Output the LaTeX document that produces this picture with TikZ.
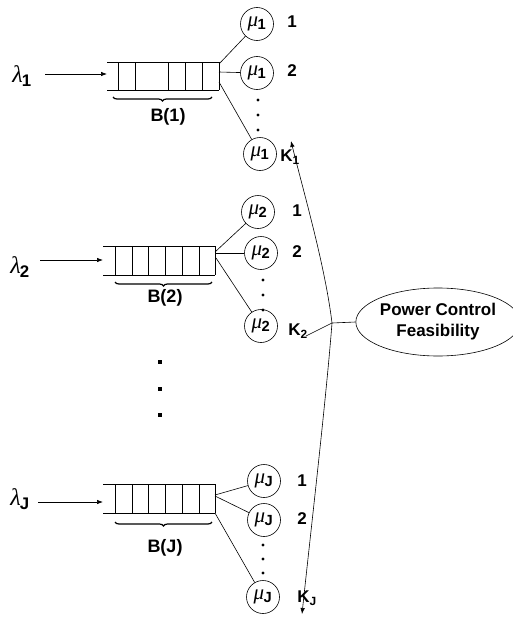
\documentclass[tikz,border=0pt]{standalone}
\usepackage{fontspec}
\setmainfont{Liberation Sans}
\newfontfamily\grk{Liberation Serif}
\usetikzlibrary{arrows.meta,decorations.pathreplacing,shapes.geometric}
\newcommand{\lamb}[1]{{\grk\itshape λ}\kern-1pt\textsubscript{\bfseries #1}}
\newcommand{\muu}[1]{{\grk\itshape μ}\kern-0.5pt\textsubscript{\bfseries #1}}
\begin{document}
\begin{tikzpicture}[x=1pt,y=-1pt,
  line width=0.6pt,
  srv/.style={draw, circle, minimum size=33pt, inner sep=0pt, line width=0.6pt, font=\fontsize{21}{21}\selectfont},
  num/.style={font=\bfseries\fontsize{17}{17}\selectfont},
  lamlab/.style={font=\fontsize{24}{24}\selectfont},
  blab/.style={font=\bfseries\fontsize{18}{18}\selectfont},
  dotm/.style={fill, circle, minimum size=3.2pt, inner sep=0pt, outer sep=0pt},
  qline/.style={line width=0.9pt},
  conn/.style={line width=0.6pt},
  arr/.style={-{Latex[length=6pt,width=4.5pt]}, line width=0.7pt},
  brc/.style={decorate, decoration={brace, mirror, amplitude=4pt}, line width=1.2pt},
  pwbox/.style={draw, ellipse, minimum width=151pt, minimum height=68pt, inner sep=0pt, align=center, font=\bfseries\fontsize{17}{21}\selectfont}
]
\useasboundingbox (0,0) rectangle (513,621);

% ---------- Block 1 ----------
\draw[qline] (107,62) -- (219,62) (107,90) -- (219,90) (219,62) -- (219,90);
\foreach \x in {118,135,168,185,202} \draw[qline] (\x,62) -- (\x,90);
\coordinate (q1a) at (219,64);
\coordinate (q1b) at (219,72);
\coordinate (q1c) at (219,82);
\coordinate (q1in) at (107,74);
\coordinate (a1) at (45,74);
\node[lamlab] (l1) at (22,76) {\lamb{1}};
\draw[arr] (a1) -- (q1in);
\draw[brc] (113,97) -- (212,97);
\node[blab] (b1) at (168,117) {B(1)};
\node[srv] (m11) at (257,24) {\muu{1}};
\node[srv] (m12) at (257,73) {\muu{1}};
\node[srv] (m1K) at (260,154) {\muu{1}};
\draw[conn] (q1a) -- (m11);
\draw[conn] (q1b) -- (m12);
\draw[conn] (q1c) -- (m1K);
\node[num] (n11) at (292,22) {1};
\node[num] (n12) at (292,71) {2};
\node[num] (n1K) at (290,157) {K\textsubscript{1}};
\foreach \y [count=\i] in {100,115,130} \node[dotm] (d1\i) at (258,\y) {};

% ---------- Block 2 ----------
\draw[qline] (103,246) -- (215,246) (103,275) -- (215,275) (215,246) -- (215,275);
\foreach \x in {115,132,148,165,182,199} \draw[qline] (\x,246) -- (\x,275);
\coordinate (q2a) at (215,252);
\coordinate (q2b) at (215,253);
\coordinate (q2c) at (216,258);
\coordinate (q2in) at (103,260);
\coordinate (a2) at (40,260);
\node[lamlab] (l2) at (20,267) {\lamb{2}};
\draw[arr] (a2) -- (q2in);
\draw[brc] (115,282) -- (212,282);
\node[blab] (b2) at (165,298) {B(2)};
\node[srv] (m21) at (258,212) {\muu{2}};
\node[srv] (m22) at (261,253) {\muu{2}};
\node[srv] (m2K) at (261,326) {\muu{2}};
\draw[conn] (q2a) -- (m21);
\draw[conn] (q2b) -- (m22);
\draw[conn] (q2c) -- (m2K);
\node[num] (n21) at (297,211) {1};
\node[num] (n22) at (297,252) {2};
\node[num] (n2K) at (298,331) {K\textsubscript{2}};
\foreach \y [count=\i] in {280,295,310} \node[dotm] (d2\i) at (263,\y) {};

% ---------- middle dots ----------
\foreach \y [count=\i] in {362,389,415} \node[dotm, rectangle, minimum size=3.5pt] (dm\i) at (160,\y) {};

% ---------- Block J ----------
\draw[qline] (103,484) -- (215,484) (103,513) -- (215,513) (215,484) -- (215,513);
\foreach \x in {115,132,148,165,182,199} \draw[qline] (\x,484) -- (\x,513);
\coordinate (qJa) at (215,495);
\coordinate (qJb) at (215,496);
\coordinate (qJc) at (215,513);
\coordinate (qJin) at (103,502);
\coordinate (aJ) at (38,502);
\node[lamlab] (lJ) at (20,499) {\lamb{J}};
\draw[arr] (aJ) -- (qJin);
\draw[brc] (115,522) -- (212,522);
\node[blab] (bJ) at (165,548) {B(J)};
\node[srv] (mJ1) at (264,481) {\muu{J}};
\node[srv] (mJ2) at (264,520) {\muu{J}};
\node[srv] (mJK) at (263,597) {\muu{J}};
\draw[conn] (qJa) -- (mJ1);
\draw[conn] (qJb) -- (mJ2);
\draw[conn] (qJc) -- (mJK);
\node[num] (nJ1) at (302,481) {1};
\node[num] (nJ2) at (302,519) {2};
\node[num] (nJK) at (307,598) {K\textsubscript{J}};
\foreach \y [count=\i] in {545,559,573} \node[dotm] (dJ\i) at (263,\y) {};

% ---------- Power control ----------
\node[pwbox] (pw) at (438,322) {Power Control\\Feasibility};
\coordinate (jn) at (332,323);
\coordinate (tp) at (291,141);
\coordinate (bt) at (302,614);
\coordinate (k2e) at (306,336);
\draw[conn] (jn) -- (pw.west);
\draw[conn] (jn) -- (k2e);
\draw[arr, line width=0.6pt] (jn) .. controls (325,265) and (303,190) .. (tp);
\draw[arr, line width=0.6pt] (jn) .. controls (326,400) and (312,520) .. (bt);
\end{tikzpicture}
\end{document}
